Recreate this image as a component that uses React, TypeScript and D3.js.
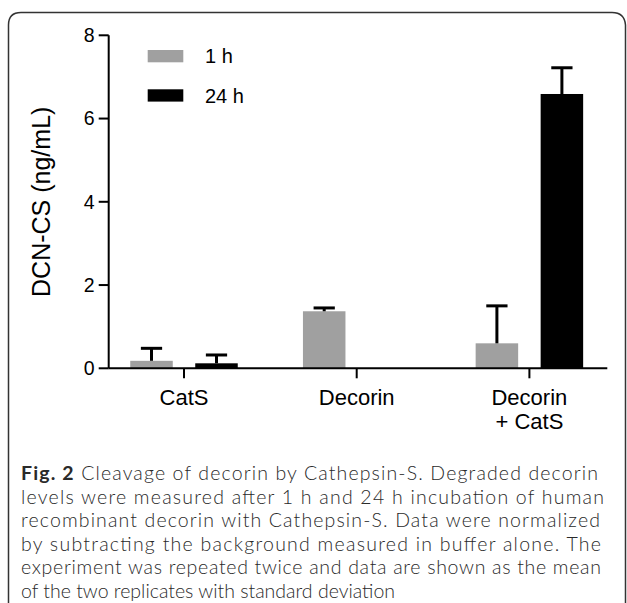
import React from "react";
import * as d3 from "d3";

const categories = ["CatS", "Decorin", "Decorin\n+ CatS"];
const series = ["1 h", "24 h"];
const means1h = [0.18, 1.37, 0.6];
const sd1h = [0.3, 0.08, 0.9];
const means24h = [0.12, 0, 6.59];
const sd24h = [0.2, 0, 0.63];
const yTicks = [0, 2, 4, 6, 8];
const seriesColors = ["#a0a0a0", "#000000"];
const captionBold = "Fig. 2";
const captionLines = [
  " Cleavage of decorin by Cathepsin-S. Degraded decorin",
  "levels were measured after 1 h and 24 h incubation of human",
  "recombinant decorin with Cathepsin-S. Data were normalized",
  "by subtracting the background measured in buffer alone. The",
  "experiment was repeated twice and data are shown as the mean",
  "of the two replicates with standard deviation",
];

const W = 627;
const H = 603;
const chartFont = "'Liberation Sans', Arial, sans-serif";
const capFont = "Lato, 'Open Sans', sans-serif";

export default function App() {
  const y = d3.scaleLinear().domain([0, 8]).range([368.3, 35.3]);
  const x0 = d3.scaleBand<string>().domain(categories).range([97.65, 615.75]).padding(0);
  const groupW = 107.5;
  const x1 = d3.scaleBand<string>().domain(series).range([0, groupW]).paddingInner(0.346);
  const offset = (x0.step() - groupW) / 2;
  const axisLeft = 108.7;
  const axisRight = 607.3;
  const means = [means1h, means24h];
  const sds = [sd1h, sd24h];
  const capW = x1.bandwidth() / 2;
  const lineWidths = [577, 583, 579, 580, 580];

  return (
    <div style={{ position: "absolute", left: 0, top: 0 }}>
      <svg width={W} height={H} style={{ display: "block", background: "#fff" }}>
        {/* frame */}
        <path
          d={`M8.5,${H + 2} L8.5,25 Q8.5,12.5 21,12.5 L612,12.5 Q624.5,12.5 625.5,25 L625.5,${H + 2}`}
          fill="none"
          stroke="#333"
          strokeWidth={1.5}
        />
        {/* bars */}
        {categories.map((c, ci) =>
          series.map((s, si) => {
            const v = means[si][ci];
            const sd = sds[si][ci];
            const bx = (x0(c) as number) + offset + (x1(s) as number);
            const bw = x1.bandwidth();
            const cx = bx + bw / 2;
            return (
              <g key={c + s}>
                {v > 0 && (
                  <rect x={bx} y={y(v)} width={bw} height={y(0) - y(v)} fill={seriesColors[si]} />
                )}
                {sd > 0 && (
                  <g stroke="#000" strokeWidth={3}>
                    <line x1={cx} x2={cx} y1={y(v)} y2={y(v + sd)} />
                    <line x1={cx - capW / 2} x2={cx + capW / 2} y1={y(v + sd)} y2={y(v + sd)} />
                  </g>
                )}
              </g>
            );
          })
        )}
        {/* y axis */}
        <line x1={axisLeft} x2={axisLeft} y1={y(8)} y2={y(0)} stroke="#000" strokeWidth={2} />
        {yTicks.map((t) => (
          <g key={t}>
            <line x1={axisLeft - 10} x2={axisLeft} y1={y(t)} y2={y(t)} stroke="#000" strokeWidth={2} />
            <text
              x={axisLeft - 14}
              y={y(t)}
              dy="0.35em"
              textAnchor="end"
              fontFamily={chartFont}
              fontSize={19.5}
            >
              {t}
            </text>
          </g>
        ))}
        {/* x axis */}
        <line x1={axisLeft} x2={axisRight} y1={y(0)} y2={y(0)} stroke="#000" strokeWidth={2} />
        {categories.map((c) => {
          const cx = (x0(c) as number) + x0.step() / 2;
          const parts = c.split("\n");
          return (
            <g key={c}>
              <line x1={cx} x2={cx} y1={y(0)} y2={y(0) + 10} stroke="#000" strokeWidth={2} />
              {parts.map((p, i) => (
                <text
                  key={i}
                  x={cx}
                  y={405 + i * 24}
                  textAnchor="middle"
                  fontFamily={chartFont}
                  fontSize={22}
                >
                  {p}
                </text>
              ))}
            </g>
          );
        })}
        {/* y label */}
        <text
          transform={`translate(50,${(y(0) + y(8)) / 2}) rotate(-90)`}
          textAnchor="middle"
          fontFamily={chartFont}
          fontSize={25}
        >
          DCN-CS (ng/mL)
        </text>
        {/* legend */}
        {series.map((s, i) => (
          <g key={s} transform={`translate(147.7,${50 + i * 39.3})`}>
            <rect x={0} y={0} width={35.6} height={12.3} fill={seriesColors[i]} />
            <text x={57.3} y={6.2} dy="0.36em" fontFamily={chartFont} fontSize={20}>
              {s}
            </text>
          </g>
        ))}
        {/* caption */}
        <g fontFamily={capFont} fontSize={19.5} fill="#2a2a2a">
          {captionLines.map((l, i) => (
            <text
              key={i}
              x={21}
              y={480 + i * 23.5}
              textLength={i < lineWidths.length ? lineWidths[i] : undefined}
              lengthAdjust={i < lineWidths.length ? "spacing" : undefined}
            >
              {i === 0 && <tspan fontWeight="bold">{captionBold}</tspan>}
              <tspan fontWeight={300}>{l}</tspan>
            </text>
          ))}
        </g>
      </svg>
    </div>
  );
}
